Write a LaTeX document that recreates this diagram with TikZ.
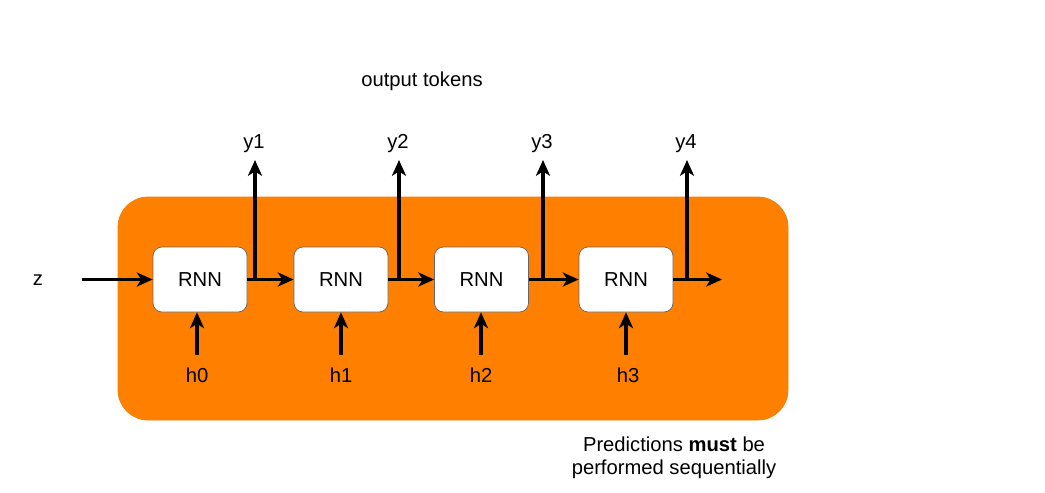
\documentclass[tikz,border=0pt]{standalone}
\usepackage{fontspec}
\setmainfont{Liberation Sans}
\usetikzlibrary{arrows.meta,positioning}
\definecolor{panel}{HTML}{FF8000}
\definecolor{panelline}{HTML}{F08000}

\begin{document}
\begin{tikzpicture}[font=\fontsize{11.5}{14}\selectfont, >={Stealth[length=9pt,width=8pt,inset=2.5pt]}]
    \useasboundingbox (0,0) rectangle (20.9,-9.84);

    \tikzset{
        rnn/.style={draw=black!60, fill=white, rounded corners=0.18cm, minimum width=1.88cm, minimum height=1.30cm, inner sep=0pt},
        flow/.style={->, line width=2pt}
    }

    \draw [panelline, fill=panel, rounded corners=0.6cm] (2.36,-3.94) rectangle (15.76,-8.40);

    \node [rnn] (rnn0) at (4.0,-5.59) {RNN};
    \node [rnn] (rnn1) at (6.82,-5.59) {RNN};
    \node [rnn] (rnn2) at (9.63,-5.59) {RNN};
    \node [rnn] (rnn3) at (12.52,-5.59) {RNN};

    \node (z) at (0.76,-5.6) {z};
    \node [coordinate] (z in) at (1.64,-5.59) {};
    \node [coordinate] (out end) at (14.44,-5.59) {};

    \node [coordinate] (b0) at (5.10,-5.59) {};
    \node [coordinate] (b1) at (7.98,-5.59) {};
    \node [coordinate] (b2) at (10.86,-5.59) {};
    \node [coordinate] (b3) at (13.74,-5.59) {};

    \node [coordinate, yshift=2.39cm] (t0) at (b0) {};
    \node [coordinate, yshift=2.39cm] (t1) at (b1) {};
    \node [coordinate, yshift=2.39cm] (t2) at (b2) {};
    \node [coordinate, yshift=2.39cm] (t3) at (b3) {};

    \node [above=0.02cm of t0, xshift=-0.02cm] (y1) {y1};
    \node [above=0.02cm of t1, xshift=-0.02cm] (y2) {y2};
    \node [above=0.02cm of t2, xshift=-0.02cm] (y3) {y3};
    \node [above=0.02cm of t3, xshift=-0.02cm] (y4) {y4};

    \node (h0) at (3.94,-7.50) {h0};
    \node (h1) at (6.82,-7.50) {h1};
    \node (h2) at (9.62,-7.50) {h2};
    \node (h3) at (12.56,-7.50) {h3};
    \node [coordinate] (s0) at (3.94,-7.10) {};
    \node [coordinate] (s1) at (6.82,-7.10) {};
    \node [coordinate] (s2) at (9.62,-7.10) {};
    \node [coordinate] (s3) at (12.52,-7.10) {};

    \draw [flow] (z in) -- (rnn0.west);
    \draw [flow] (rnn0.east) -- (rnn1.west);
    \draw [flow] (rnn1.east) -- (rnn2.west);
    \draw [flow] (rnn2.east) -- (rnn3.west);
    \draw [flow] (rnn3.east) -- (out end);

    \draw [flow] (b0) -- (t0);
    \draw [flow] (b1) -- (t1);
    \draw [flow] (b2) -- (t2);
    \draw [flow] (b3) -- (t3);

    \draw [flow] (s0) -- (s0 |- rnn0.south);
    \draw [flow] (s1) -- (s1 |- rnn1.south);
    \draw [flow] (s2) -- (s2 |- rnn2.south);
    \draw [flow] (s3) -- (s3 |- rnn3.south);

    \node (tokens) at (8.44,-1.62) {output tokens};
    \node [align=center, inner sep=0pt] (note) at (13.48,-9.16) {Predictions \textbf{must} be\\[-1pt] performed sequentially};
\end{tikzpicture}
\end{document}
